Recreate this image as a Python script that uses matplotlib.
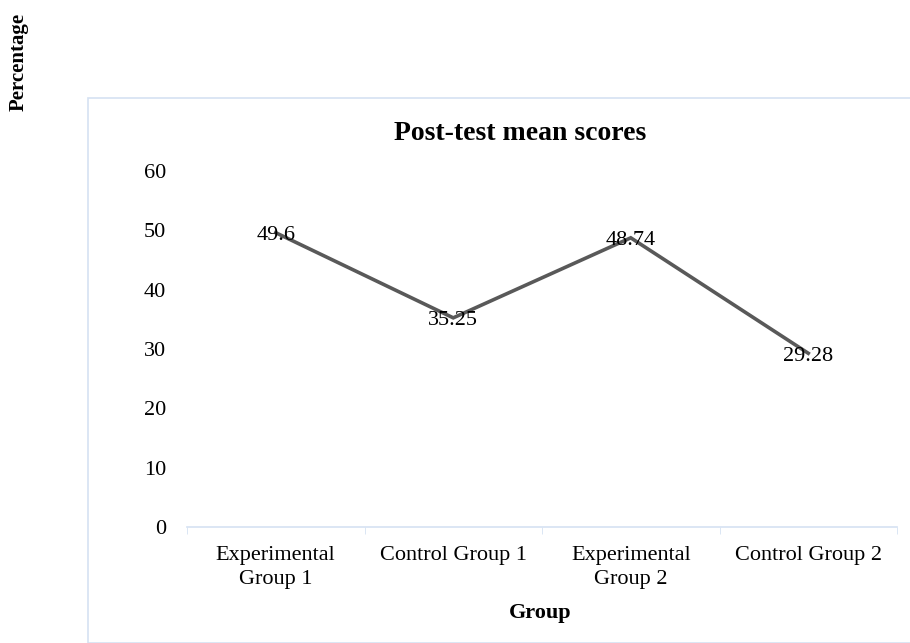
import matplotlib.pyplot as plt
from matplotlib.patches import Rectangle

# datos
grupos = ["Experimental\nGroup 1", "Control Group 1", "Experimental\nGroup 2", "Control Group 2"]
medias = [49.6, 35.25, 48.74, 29.28]
ticks_y = [0, 10, 20, 30, 40, 50, 60]

plt.rcParams['font.family'] = ['Liberation Serif', 'DejaVu Serif']

W, H = 910, 643
fig = plt.figure(figsize=(W / 100, H / 100), dpi=100)

# marco exterior
fig.patches.append(Rectangle((88 / W, 0), 1.0, 1 - 98 / H, transform=fig.transFigure,
                             fill=False, edgecolor="#d5e2f2", linewidth=1.2))

ax = fig.add_axes([187 / W, 1 - 527 / H, (897 - 187) / W, (527 - 171) / H])
x = list(range(len(grupos)))
ax.plot(x, medias, color="#595959", linewidth=2.6, solid_joinstyle="miter")
for xi, v in zip(x, medias):
    ax.annotate(f"{v:g}", (xi, v), xytext=(0, -2), textcoords="offset points",
                ha="center", va="center", fontsize=16, color="black")

ax.set_xlim(-0.5, len(grupos) - 0.5)
ax.set_ylim(0, 60)
ax.set_yticks(ticks_y)
ax.set_xticks(x)
ax.set_xticklabels(grupos, fontsize=16, linespacing=1.35)
ax.tick_params(axis="y", length=0, labelsize=16, pad=15)
ax.tick_params(axis="x", length=0, pad=14)
ax.set_xticks([i - 0.5 for i in range(len(grupos) + 1)], minor=True)
ax.tick_params(axis="x", which="minor", length=5, color="#d5e2f2", direction="out")
for s in ["top", "right", "left"]:
    ax.spines[s].set_visible(False)
ax.spines["bottom"].set_color("#d5e2f2")
ax.spines["bottom"].set_linewidth(1.2)

fig.text(520 / W, 1 - 133 / H, "Post-test mean scores", ha="center", va="center",
         fontsize=20, fontweight="bold")
fig.text(540 / W, 1 - 613 / H, "Group", ha="center", va="center",
         fontsize=16, fontweight="bold")
fig.text(19 / W, 1 - 62 / H, "Percentage", ha="center", va="center", rotation=90,
         fontsize=15, fontweight="bold")

fig.savefig("out.png", dpi=100)
